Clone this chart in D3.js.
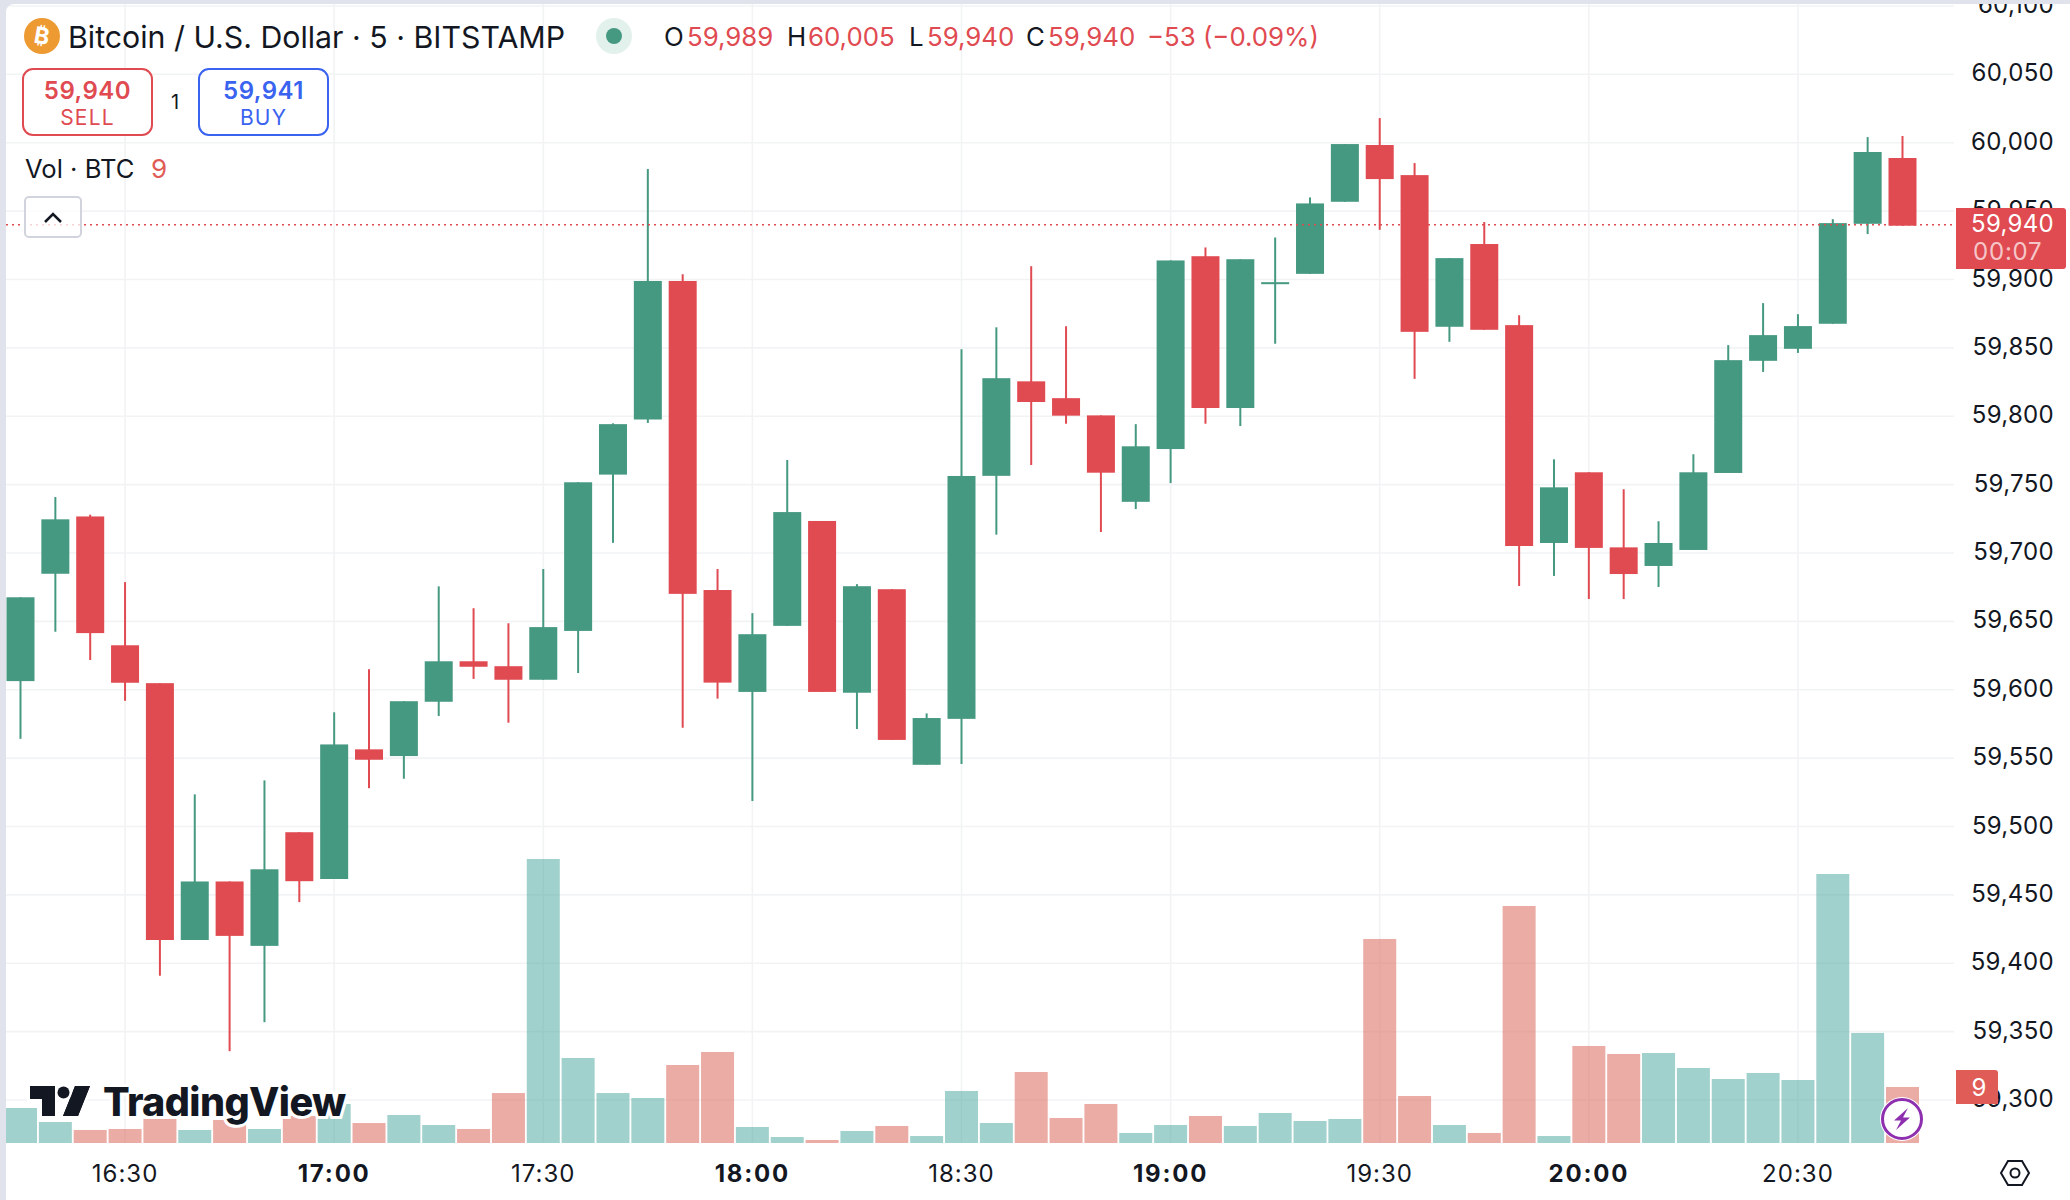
<!DOCTYPE html>
<html><head><meta charset="utf-8">
<script src="https://d3js.org/d3.v7.min.js"></script>
<style>html,body{margin:0;padding:0;background:#fff;overflow:hidden}svg{display:block}text{font-family:Inter,"Noto Sans",sans-serif}</style>
</head><body><svg id="c" width="2070" height="1200"></svg>
<script>
const times=["16:15","16:20","16:25","16:30","16:35","16:40","16:45","16:50","16:55","17:00","17:05","17:10","17:15","17:20","17:25","17:30","17:35","17:40","17:45","17:50","17:55","18:00","18:05","18:10","18:15","18:20","18:25","18:30","18:35","18:40","18:45","18:50","18:55","19:00","19:05","19:10","19:15","19:20","19:25","19:30","19:35","19:40","19:45","19:50","19:55","20:00","20:05","20:10","20:15","20:20","20:25","20:30","20:35","20:40","20:45"];
const opens=[59606.3,59684.8,59726.7,59632.5,59604.8,59417,59459.8,59412.7,59495.8,59461.6,59556.4,59551.5,59591.2,59620.8,59617.2,59607.3,59643,59757.3,59797.6,59898.9,59672.9,59598.4,59646.7,59723.4,59597.8,59673.5,59545.1,59578.7,59756.4,59825.5,59813.2,59800.6,59737.4,59776,59917,59806,59896.6,59904.1,59956.8,59998.3,59976.3,59865.4,59925.9,59866.6,59707.3,59759,59704.1,59690.5,59702.2,59758.5,59840.5,59849.3,59867.6,59940.7,59988.8];
const highs=[59667.6,59740.9,59728,59678.7,59604.8,59523.5,59459.8,59533.7,59495.8,59583.5,59615,59591.6,59675.6,59659.6,59648.6,59688.3,59751.7,59794.8,59980.8,59903.8,59688.3,59656,59768,59723.4,59677.2,59673.5,59582.7,59849,59865,59909.7,59865.8,59800.6,59794.2,59913.9,59923.4,59914.8,59930.7,59960,59999,60018,59985.1,59915.6,59942,59873.9,59768.5,59759,59746.6,59723.2,59772.2,59852,59882.7,59874.6,59944.1,60004.1,60004.9];
const lows=[59564.1,59642.4,59621.7,59591.9,59390.8,59417,59335.7,59356.9,59444.7,59461.6,59528,59534.9,59580.8,59607.9,59575.9,59607.3,59612.2,59707.4,59795.1,59572.2,59593.5,59518.6,59646.7,59598.4,59571.3,59563.3,59545.1,59545.7,59713.4,59764.3,59794.5,59715.3,59732.1,59751.1,59794.5,59792.8,59853,59904.1,59956.8,59936.3,59827.3,59854.4,59863.2,59675.9,59683.2,59666.3,59666.3,59675.1,59702.2,59758.5,59832.4,59846.3,59867.6,59933.2,59939.3];
const closes=[59667.6,59724.6,59641.4,59605.1,59417,59459.8,59420,59468.7,59460,59560,59548.8,59591.6,59620.8,59616.8,59607.3,59645.8,59751.7,59794.2,59898.9,59670.1,59605.2,59640.6,59729.9,59598.4,59675.7,59563.3,59579.3,59756.3,59827.8,59810.4,59800.4,59758.7,59778,59913.9,59806,59914.8,59898,59955.6,59999,59973.4,59861.7,59915.6,59863.2,59705.1,59748,59703.7,59684.6,59707.3,59759,59841,59859.3,59865.9,59941.2,59993.2,59939.3];
const volumes=[5.62,3.37,2.09,2.25,3.86,2.09,3.70,2.25,4.34,6.27,3.21,4.50,2.89,2.25,8.03,45.63,13.66,8.03,7.23,12.53,14.62,2.57,0.96,0.48,1.93,2.73,1.12,8.36,3.21,11.41,4.02,6.27,1.61,2.89,4.34,2.73,4.82,3.54,3.86,32.78,7.55,2.89,1.61,38.08,1.12,15.59,14.30,14.46,12.05,10.28,11.25,10.12,43.22,17.68,9.00];
const priceTicks=[60100,60050,60000,59950,59900,59850,59800,59750,59700,59650,59600,59550,59500,59450,59400,59350,59300];
const timeTicks=["16:30","17:00","17:30","18:00","18:30","19:00","19:30","20:00","20:30"];
const boldTicks=["17:00","18:00","19:00","20:00"];
const lastPrice=59940;
const legend=[["O",null],["59,989",1],["H",null],["60,005",1],["L",null],["59,940",1],["C",null],["59,940",1],["−53 (−0.09%)",1]];

const UP="#469981",DOWN="#E04A51",VUP="#43A399",VDN="#D9594D",INK="#131722",GRID="#F2F3F4";
const svg=d3.select("#c");
const L=6,R=1954,B=1143;
const x=d3.scalePoint().domain(times).range([20.5,1902.5]);
const y=d3.scaleLinear().domain([59300,60000]).range([1100,142.7]);
const yv=d3.scaleLinear().domain([0,45.63]).range([B,859]);

svg.append("rect").attr("width",2070).attr("height",1200).attr("fill","#fff");
const defs=svg.append("defs");
defs.append("clipPath").attr("id","pane").append("rect").attr("x",L).attr("y",0).attr("width",R-L).attr("height",B+1);

// grid
const g=svg.append("g").attr("clip-path","url(#pane)");
g.selectAll(".gh").data(priceTicks).join("line").attr("x1",L).attr("x2",R).attr("y1",d=>y(d)).attr("y2",d=>y(d)).attr("stroke",GRID).attr("stroke-width",1.6);
g.selectAll(".gv").data(timeTicks).join("line").attr("x1",d=>x(d)).attr("x2",d=>x(d)).attr("y1",0).attr("y2",B).attr("stroke",GRID).attr("stroke-width",1.6);

// volume
const idx=d3.range(times.length);
g.selectAll(".vol").data(idx).join("rect").attr("x",i=>x(times[i])-16.5).attr("width",33)
 .attr("y",i=>yv(volumes[i])).attr("height",i=>B-yv(volumes[i]))
 .attr("fill",i=>closes[i]>=opens[i]?VUP:VDN).attr("fill-opacity",0.5);

// candles
g.selectAll(".wick").data(idx).join("line").attr("x1",i=>x(times[i])).attr("x2",i=>x(times[i]))
 .attr("y1",i=>y(highs[i])).attr("y2",i=>y(lows[i])).attr("stroke-width",2)
 .attr("stroke",i=>closes[i]>=opens[i]?UP:DOWN);
g.selectAll(".body").data(idx).join("rect").attr("x",i=>x(times[i])-14).attr("width",28)
 .attr("y",i=>y(Math.max(opens[i],closes[i]))).attr("height",i=>Math.max(2,Math.abs(y(opens[i])-y(closes[i]))))
 .attr("fill",i=>closes[i]>=opens[i]?UP:DOWN);

// price line
svg.append("line").attr("x1",L).attr("x2",R).attr("y1",y(lastPrice)).attr("y2",y(lastPrice))
 .attr("stroke",DOWN).attr("stroke-width",1.7).attr("stroke-dasharray","2 4");

// axis labels
svg.selectAll(".pt").data(priceTicks).join("text").attr("x",2054).attr("y",d=>y(d)-1.5).attr("dy","0.36em")
 .attr("text-anchor","end").attr("font-size",24).attr("letter-spacing",0.3).attr("fill",INK).text(d=>d3.format(",")(d));
svg.selectAll(".tt").data(timeTicks).join("text").attr("x",d=>x(d)).attr("y",1182).attr("text-anchor","middle")
 .attr("font-size",24).attr("letter-spacing",d=>boldTicks.includes(d)?1.8:1).attr("font-weight",d=>boldTicks.includes(d)?700:400).attr("fill",INK).text(d=>d);

// price tag
svg.append("path").attr("d","M1956 208H2063a3 3 0 0 1 3 3V266a3 3 0 0 1 -3 3H1956Z").attr("fill",DOWN);
svg.append("text").attr("x",2054).attr("y",232).attr("text-anchor","end").attr("font-size",24).attr("letter-spacing",0.3).attr("fill","#fff").text("59,940");
svg.append("text").attr("x",1973).attr("y",260).attr("font-size",24).attr("letter-spacing",0.8).attr("fill","#fff").attr("fill-opacity",.7).text("00:07");
// vol tag
svg.append("path").attr("d","M1956 1070H1995a3 3 0 0 1 3 3V1104H1956Z").attr("fill","#E05C56");
svg.append("text").attr("x",1979).attr("y",yv(volumes[54])).attr("dy","0.36em").attr("text-anchor","middle").attr("font-size",24).attr("fill","#fff").text("9");

// settings hexagon
svg.append("path").attr("d","M2001 1173L2008 1161H2022L2029 1173L2022 1185H2008Z").attr("fill","none").attr("stroke",INK).attr("stroke-width",2);
svg.append("circle").attr("cx",2015).attr("cy",1173).attr("r",4.5).attr("fill","none").attr("stroke",INK).attr("stroke-width",2);

// lightning
svg.append("circle").attr("cx",1902).attr("cy",1119).attr("r",22).attr("fill","#fff");
svg.append("circle").attr("cx",1902).attr("cy",1119).attr("r",19.5).attr("fill","#fff").attr("stroke","#8E2FAF").attr("stroke-width",3);
svg.append("path").attr("d","M1908 1108L1894 1120.5H1901L1896 1130L1910 1117.5H1903Z").attr("fill","#8E2FAF");

// TradingView logo
const logo=svg.append("g");
logo.append("path").attr("d","M30 1086H55V1116H42V1099H30Z M75 1086H90L78 1116H63Z").attr("fill",INK).attr("stroke","#fff").attr("stroke-width",6).attr("paint-order","stroke");
logo.append("circle").attr("cx",63.5).attr("cy",1092.5).attr("r",6).attr("fill",INK).attr("stroke","#fff").attr("stroke-width",6).attr("paint-order","stroke");
logo.append("path").attr("d","M30 1086H55V1116H42V1099H30Z M75 1086H90L78 1116H63Z").attr("fill",INK);
logo.append("text").attr("x",103).attr("y",1116).attr("font-size",39.5).attr("font-weight",800).attr("fill",INK)
 .attr("stroke","#fff").attr("stroke-width",6).attr("paint-order","stroke").attr("letter-spacing",-0.6).text("TradingView");

// header
svg.append("circle").attr("cx",42).attr("cy",36).attr("r",18).attr("fill","#EE9A33");
svg.append("text").attr("x",42).attr("y",44).attr("text-anchor","middle").attr("font-size",23).attr("font-weight",700).attr("fill","#fff").attr("transform","rotate(10 42 36)").text("₿");
svg.append("text").attr("x",68).attr("y",48).attr("font-size",30.3).attr("fill",INK).text("Bitcoin / U.S. Dollar · 5 · BITSTAMP");
svg.append("circle").attr("cx",614).attr("cy",36).attr("r",18).attr("fill","#E3F1ED");
svg.append("circle").attr("cx",614).attr("cy",36).attr("r",8).attr("fill",UP);
const legX=[664,687,787,808,909,927,1026,1048,1147];
svg.selectAll(".leg").data(legend).join("text").attr("x",(d,i)=>legX[i]).attr("y",46).attr("font-size",25.8)
 .attr("fill",d=>d[1]?DOWN:INK).text(d=>d[0]);

function btn(x0,col,price,label){
 svg.append("rect").attr("x",x0).attr("y",69).attr("width",129).attr("height",66).attr("rx",10).attr("fill","#fff").attr("stroke",col).attr("stroke-width",2);
 svg.append("text").attr("x",x0+64.5).attr("y",99).attr("text-anchor","middle").attr("font-size",24).attr("font-weight",600).attr("letter-spacing",0.5).attr("fill",col).text(price);
 svg.append("text").attr("x",x0+64.5).attr("y",125).attr("text-anchor","middle").attr("font-size",21).attr("letter-spacing",1.2).attr("fill",col).text(label);
}
btn(23,"#E04A51","59,940","SELL");
btn(199,"#3A63F0","59,941","BUY");
svg.append("text").attr("x",175).attr("y",109).attr("text-anchor","middle").attr("font-size",20).attr("fill",INK).text("1");
svg.append("text").attr("x",25).attr("y",178).attr("font-size",25.6).attr("fill",INK).text("Vol · BTC");
svg.append("text").attr("x",151).attr("y",178).attr("font-size",26).attr("fill","#E05C56").text("9");
svg.append("rect").attr("x",25).attr("y",197).attr("width",56).attr("height",40).attr("rx",4).attr("fill","#fff").attr("fill-opacity",.75).attr("stroke","#D1D4DC").attr("stroke-width",2);
svg.append("path").attr("d","M45 222L53 214L61 222").attr("fill","none").attr("stroke",INK).attr("stroke-width",2.5);

// outer frame
svg.append("path").attr("fill-rule","evenodd").attr("fill","#E0E3EB").attr("d","M0 0H2070V4H14a8 8 0 0 0 -8 8V1200H0Z");
</script></body></html>
